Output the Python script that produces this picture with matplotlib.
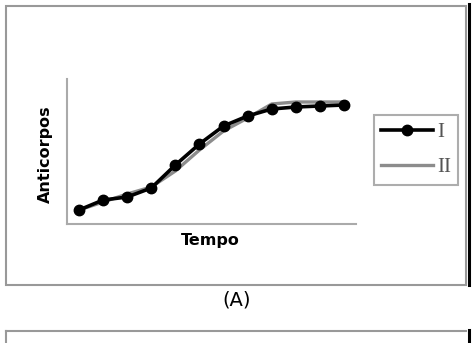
import matplotlib.pyplot as plt
from matplotlib.lines import Line2D
from matplotlib.patches import Rectangle

# time steps and antibody levels
tempo = [1, 2, 3, 4, 5, 6, 7, 8, 9, 10, 11, 12]
serie_i = [14, 24, 27, 36, 59, 80, 98, 108, 115, 117, 118, 119]
serie_ii = [14, 22, 30, 37, 53, 74, 93, 106, 120, 122, 122, 122]
labels = ['I', 'II']

W, H = 476, 343


def px(x, y):
    # pixel position (top-left origin) to figure fraction
    return x / W, 1 - y / H


fig = plt.figure(figsize=(W / 100, H / 100), dpi=100)

# outer panel frames
fig.patches.append(Rectangle(px(6, 285), 460 / W, 279 / H, transform=fig.transFigure,
                             fill=False, edgecolor='#999999', lw=1.5))
fig.lines.append(Line2D([6 / W, 466 / W], [1 - 331 / H] * 2, transform=fig.transFigure,
                        color='#999999', lw=1.5))
fig.lines.append(Line2D([6 / W, 6 / W], [1 - 331 / H, 0], transform=fig.transFigure,
                        color='#999999', lw=1.5))
fig.lines.append(Line2D([469 / W] * 2, [1 - 4 / H, 1 - 285 / H], transform=fig.transFigure,
                        color='black', lw=2.2))
fig.lines.append(Line2D([469 / W] * 2, [1 - 330 / H, 0], transform=fig.transFigure,
                        color='black', lw=2.2))

ax = fig.add_axes([67 / W, 1 - 224 / H, (356 - 67) / W, (224 - 79) / H])
ax.plot(tempo, serie_ii, color='#8c8c8c', lw=2.4, label=labels[1], zorder=2)
ax.plot(tempo, serie_i, color='black', lw=2.6, marker='o', markersize=7.5, label=labels[0], zorder=3)
ax.set_xlim(0.5, 12.5)
ax.set_ylim(0, 145)
ax.set_xticks([])
ax.set_yticks([])
for s in ['top', 'right']:
    ax.spines[s].set_visible(False)
for s in ['left', 'bottom']:
    ax.spines[s].set_color('#aaaaaa')
    ax.spines[s].set_linewidth(1.5)

fig.text(210 / W, 1 - 241 / H, 'Tempo', ha='center', va='center', fontsize=11.5, fontweight='bold')
fig.text(45 / W, 1 - 154 / H, 'Anticorpos', ha='center', va='center', rotation=90,
         fontsize=11.5, fontweight='bold')
fig.text(237 / W, 1 - 300 / H, '(A)', ha='center', va='center', fontsize=14)

handles, labs = ax.get_legend_handles_labels()
leg = fig.legend(handles[::-1], labs[::-1], loc='center', bbox_to_anchor=px(416, 150),
                 frameon=True, fancybox=False, edgecolor='#999999', handlelength=2.5,
                 handletextpad=0.2, labelspacing=0.75, borderpad=0.35,
                 prop={'family': 'Liberation Serif', 'size': 15})
leg.get_frame().set_linewidth(1.5)
for t in leg.get_texts():
    t.set_color('#555555')

fig.savefig('out.png', dpi=100)
